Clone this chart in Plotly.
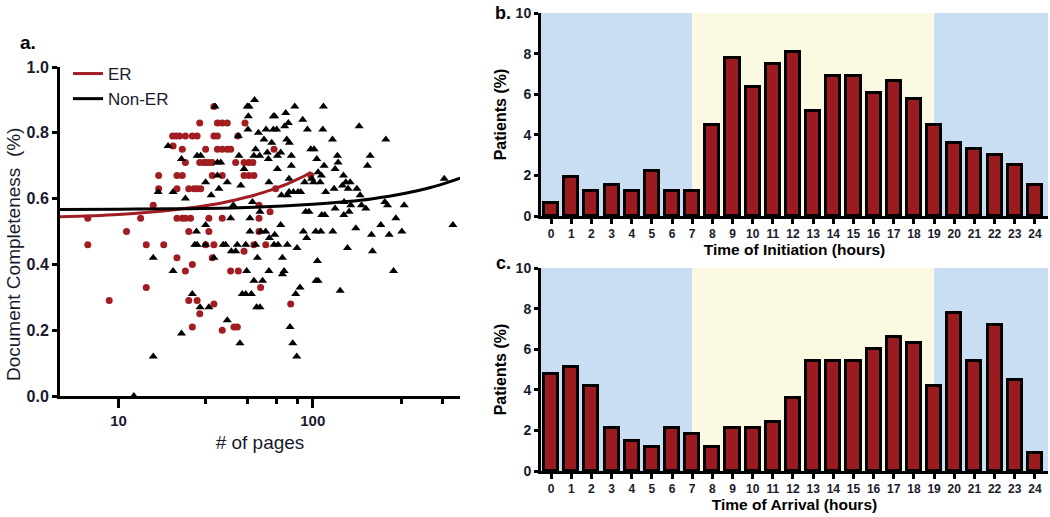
import plotly.graph_objects as go

# ---- panel a: document completeness vs number of pages ----
er_pages = [6.95, 6.95, 8.96, 11.0, 13.0, 13.9, 13.9, 15.1, 16.1, 16.1, 17.1, 19.1,
            19.0, 19.8, 20.6, 22.1, 24.0, 25.4,
            20.0, 21.3, 21.3, 20.0,
            20.0, 21.3, 22.1, 23.5,
            20.0, 22.1, 23.0, 22.1, 24.0, 23.0, 25.4, 24.0,
            23.0, 24.5, 25.4, 26.5,
            26.2, 26.2, 27.5, 26.2, 28.1, 28.1, 29.2, 29.2, 28.1, 29.2, 30.4, 30.4,
            30.4, 31.0, 31.0, 32.3, 31.0, 32.3, 34.2, 36.3, 32.3, 34.2, 36.3, 37.8,
            31.0, 34.2, 34.2, 34.2, 39.3, 40.9, 40.1, 37.8, 41.4, 41.2, 44.8, 44.3,
            46.9, 49.2, 44.3, 46.9, 49.8, 44.3, 49.8, 52.9, 52.9, 52.9, 53.9, 57.3,
            60.3, 63.2, 64.4, 77.0, 97.7]
er_score = [0.54, 0.46, 0.29, 0.50, 0.54, 0.46, 0.33, 0.58, 0.67, 0.63, 0.46, 0.76,
            0.79, 0.79, 0.79, 0.79, 0.79, 0.79,
            0.67, 0.67, 0.75, 0.63,
            0.54, 0.54, 0.54, 0.54,
            0.42, 0.71, 0.50, 0.38, 0.40, 0.29, 0.29, 0.21,
            0.63, 0.63, 0.63, 0.63,
            0.83, 0.71, 0.71, 0.25, 0.75, 0.46, 0.50, 0.54, 0.71, 0.71, 0.71, 0.67,
            0.42, 0.28, 0.79, 0.79, 0.88, 0.83, 0.83, 0.83, 0.75, 0.75, 0.75, 0.75,
            0.46, 0.67, 0.54, 0.20, 0.21, 0.21, 0.71, 0.38, 0.38, 0.79, 0.83, 0.71,
            0.71, 0.71, 0.67, 0.67, 0.67, 0.44, 0.46, 0.54, 0.50, 0.58, 0.33, 0.46,
            0.56, 0.75, 0.63, 0.28, 0.67]

non_er_pages = [15.1, 15.1, 16.0, 18.0, 19.1, 19.1, 21.1, 21.1, 22.1, 24.0, 25.2, 24.7,
                25.4, 25.4, 26.5, 26.3, 28.1, 28.1, 28.1, 29.2, 30.0, 31.0, 31.4, 32.3,
                33.6, 32.3, 32.9, 34.6, 35.6, 36.3, 36.3, 37.8, 38.1, 39.0, 40.1, 40.9,
                41.4, 41.7, 42.2, 42.6, 43.4, 45.2, 44.3, 45.2, 45.7, 46.0, 47.0, 46.6,
                46.4, 47.5, 47.5, 48.3, 48.9, 49.8, 49.8, 50.2, 50.8, 51.4, 53.5, 50.8,
                51.9, 52.5, 53.3, 53.5, 54.0, 55.2, 56.1, 57.2, 57.5, 58.4, 59.1, 59.5,
                59.5, 59.8, 61.5, 62.7, 63.7, 62.7, 63.2, 63.7, 65.2, 65.8, 65.8, 66.3,
                68.4, 68.4, 69.0, 69.8, 69.8, 71.2, 71.7, 72.6, 73.5, 74.0, 74.0, 74.9,
                75.5, 75.5, 75.8, 76.4, 77.6, 77.6, 78.9, 79.5, 80.8, 81.7, 82.7, 83.0,
                84.0, 86.0, 86.7, 88.8, 89.5, 90.9, 92.0, 93.1, 93.9, 95.7, 97.7, 98.8,
                100.8, 101.6, 103.6, 104.0, 106.5, 104.9, 105.7, 106.5, 109.1, 110.0,
                110.8, 111.3, 112.6, 113.5, 114.4, 115.3, 116.7, 126.3, 126.8, 128.8,
                130.3, 130.3, 134.0, 135.1, 138.4, 142.2, 143.9, 144.5, 145.0, 148.0,
                150.9, 152.1, 153.9, 155.8, 157.0, 166.6, 168.6, 173.3, 175.4, 178.2,
                187.6, 191.3, 197.5, 200.6, 203.0, 224.1, 235.0, 237.8, 242.6, 247.4,
                260.5, 267.8, 287.6, 295.6, 475.3, 526.7, 12.0]
non_er_score = [0.12, 0.42, 0.62, 0.76, 0.38, 0.62, 0.19, 0.72, 0.60, 0.31, 0.50, 0.46,
                0.46, 0.73, 0.73, 0.27, 0.52, 0.65, 0.46, 0.27, 0.61, 0.42, 0.88, 0.71,
                0.71, 0.67, 0.63, 0.46, 0.46, 0.65, 0.23, 0.54, 0.44, 0.58, 0.44, 0.46,
                0.79, 0.73, 0.16, 0.64, 0.31, 0.31, 0.69, 0.46, 0.38, 0.88, 0.88, 0.85,
                0.81, 0.50, 0.54, 0.31, 0.59, 0.73, 0.35, 0.90, 0.46, 0.27, 0.27, 0.75,
                0.42, 0.80, 0.73, 0.56, 0.50, 0.35, 0.78, 0.50, 0.81, 0.74, 0.72, 0.65,
                0.38, 0.48, 0.77, 0.85, 0.85, 0.81, 0.46, 0.49, 0.81, 0.73, 0.69, 0.46,
                0.74, 0.52, 0.61, 0.42, 0.37, 0.38, 0.82, 0.86, 0.78, 0.61, 0.46, 0.83,
                0.66, 0.62, 0.77, 0.21, 0.73, 0.70, 0.16, 0.62, 0.88, 0.31, 0.12, 0.45,
                0.62, 0.33, 0.62, 0.84, 0.50, 0.65, 0.56, 0.48, 0.81, 0.56, 0.75, 0.66,
                0.65, 0.75, 0.50, 0.35, 0.35, 0.72, 0.41, 0.68, 0.65, 0.50,
                0.67, 0.55, 0.81, 0.88, 0.70, 0.55, 0.62, 0.78, 0.50, 0.63,
                0.69, 0.57, 0.73, 0.71, 0.32, 0.64, 0.67, 0.55, 0.59, 0.65,
                0.45, 0.63, 0.56, 0.65, 0.58, 0.51, 0.63, 0.82, 0.61, 0.58,
                0.57, 0.70, 0.73, 0.49, 0.44, 0.52, 0.59, 0.78, 0.58, 0.49,
                0.38, 0.54, 0.50, 0.58, 0.66, 0.52, 0.00]

# fitted lines
er_fit_pages = [5, 10, 20, 30, 40, 50, 60, 70, 80, 90, 98]
er_fit_score = [0.545, 0.552, 0.567, 0.581, 0.596, 0.610, 0.625, 0.639, 0.654, 0.668, 0.680]
non_er_fit_pages = [5, 10, 20, 50, 100, 150, 200, 300, 400, 500, 573]
non_er_fit_score = [0.567, 0.568, 0.569, 0.574, 0.583, 0.591, 0.599, 0.616, 0.633, 0.650, 0.662]

# ---- panels b and c: patients per hour ----
hours = list(range(25))
initiation_pct = [0.65, 1.9, 1.25, 1.55, 1.25, 2.2, 1.25, 1.25, 4.5, 7.8, 6.35, 7.5, 8.1,
                  5.15, 6.9, 6.9, 6.05, 6.65, 5.75, 4.5, 3.6, 3.3, 3.0, 2.5, 1.55]
arrival_pct = [4.8, 5.1, 4.2, 2.1, 1.5, 1.2, 2.1, 1.8, 1.2, 2.1, 2.1, 2.4, 3.6,
               5.4, 5.4, 5.4, 6.0, 6.6, 6.3, 4.2, 7.8, 5.4, 7.2, 4.5, 0.9]

W, H = 1050, 517
RED = "#A11D21"
BAR_RED = "#9B1B20"
BLUE = "#C9DEF2"
YELLOW = "#FCF9E2"
INK = "#1a1a2e"
FONT = "Liberation Sans"

fig = go.Figure()

fig.add_trace(go.Scatter(x=er_pages, y=er_score, mode="markers", showlegend=False,
                         marker=dict(color=RED, size=7, symbol="circle"),
                         xaxis="x", yaxis="y"))
fig.add_trace(go.Scatter(x=non_er_pages, y=non_er_score, mode="markers", showlegend=False,
                         marker=dict(color="black", size=8, symbol="triangle-up"),
                         xaxis="x", yaxis="y"))
fig.add_trace(go.Scatter(x=er_fit_pages, y=er_fit_score, mode="lines", name="ER",
                         line=dict(color=RED, width=3, shape="spline"),
                         xaxis="x", yaxis="y"))
fig.add_trace(go.Scatter(x=non_er_fit_pages, y=non_er_fit_score, mode="lines", name="Non-ER",
                         line=dict(color="black", width=3, shape="spline"),
                         xaxis="x", yaxis="y"))

for vals, xa, ya in [(initiation_pct, "x2", "y2"), (arrival_pct, "x3", "y3")]:
    fig.add_trace(go.Bar(x=hours, y=vals, width=0.7, showlegend=False,
                         marker=dict(color=BAR_RED, line=dict(color="black", width=3)),
                         xaxis=xa, yaxis=ya))

# day / night shading
shapes = []
for xa, ya in [("x2", "y2"), ("x3", "y3")]:
    for x0, x1, col in [(-0.5, 7, BLUE), (7, 19, YELLOW), (19, 24.65, BLUE)]:
        shapes.append(dict(type="rect", xref=xa, yref=ya, x0=x0, x1=x1, y0=0, y1=10,
                           fillcolor=col, line=dict(width=0), layer="below"))

axis_common = dict(showline=True, linecolor="black", linewidth=3, ticks="outside",
                   tickcolor="black", tickwidth=3, showgrid=False, zeroline=False,
                   automargin=False)

bar_x = dict(axis_common, range=[-0.5, 24.65], tickvals=hours, ticklen=5,
             tickfont=dict(family=FONT, size=12, color=INK, weight="bold"))
bar_y = dict(axis_common, range=[0, 10], tickvals=[0, 2, 4, 6, 8, 10], ticklen=4,
             tickfont=dict(family=FONT, size=14, color=INK, weight="bold"),
             title=dict(text="Patients (%)", standoff=6,
                        font=dict(family=FONT, size=16, color="black", weight="bold")))


def label(text, x, y, size, bold=False, angle=0, color=INK):
    return dict(text=text, x=x / W, y=1 - y / H, xref="paper", yref="paper",
                xanchor="center", yanchor="middle", textangle=angle, showarrow=False,
                font=dict(family=FONT, size=size, color=color,
                          weight="bold" if bold else "normal"))


fig.update_layout(
    width=W, height=H,
    margin=dict(l=0, r=0, t=0, b=0),
    paper_bgcolor="white", plot_bgcolor="white",
    font=dict(family=FONT, color="black"),
    shapes=shapes,
    bargap=0,
    xaxis=dict(axis_common, type="log", domain=[60 / W, 460 / W],
               range=[0.699, 2.758], tickvals=[10, 100], ticktext=["10", "100"], ticklen=9,
               tickfont=dict(family=FONT, size=15, color=INK, weight="bold"),
               minor=dict(tickvals=[28, 46, 65, 83, 288, 468], ticks="outside", ticklen=5,
                          tickwidth=3, tickcolor="black"),
               title=dict(text="# of pages", standoff=8,
                          font=dict(family=FONT, size=19, color=INK))),
    yaxis=dict(axis_common, domain=[1 - 396 / H, 1 - 67 / H], range=[0, 1.0],
               tickvals=[0, 0.2, 0.4, 0.6, 0.8, 1.0],
               ticktext=["0.0", "0.2", "0.4", "0.6", "0.8", "1.0"], ticklen=5,
               tickfont=dict(family=FONT, size=16, color=INK, weight="bold")),
    xaxis2=dict(bar_x, domain=[541 / W, 1048 / W], anchor="y2",
                title=dict(text="Time of Initiation (hours)", standoff=3,
                           font=dict(family=FONT, size=15.5, color="black", weight="bold"))),
    yaxis2=dict(bar_y, domain=[1 - 216 / H, 1 - 13 / H], anchor="x2"),
    xaxis3=dict(bar_x, domain=[541 / W, 1048 / W], anchor="y3",
                title=dict(text="Time of Arrival (hours)", standoff=3,
                           font=dict(family=FONT, size=15.5, color="black", weight="bold"))),
    yaxis3=dict(bar_y, domain=[1 - 471 / H, 1 - 268 / H], anchor="x3"),
    legend=dict(x=68 / W, y=1 - 56 / H, xanchor="left", yanchor="top",
                bgcolor="rgba(0,0,0,0)", font=dict(family=FONT, size=17, color=INK),
                tracegroupgap=2),
    annotations=[
        label("Document Completeness  (%)", 13, 255, 19, angle=-90),
        label("a.", 28, 43, 19, bold=True, color="black"),
        label("b.", 503, 13, 18, bold=True, color="black"),
        label("c.", 503, 263, 18, bold=True, color="black"),
    ],
)

# the page's default body margin would push the figure off the window
fig.write_html("out.html", config={"displayModeBar": False},
               post_script="document.body.style.margin='0';")
